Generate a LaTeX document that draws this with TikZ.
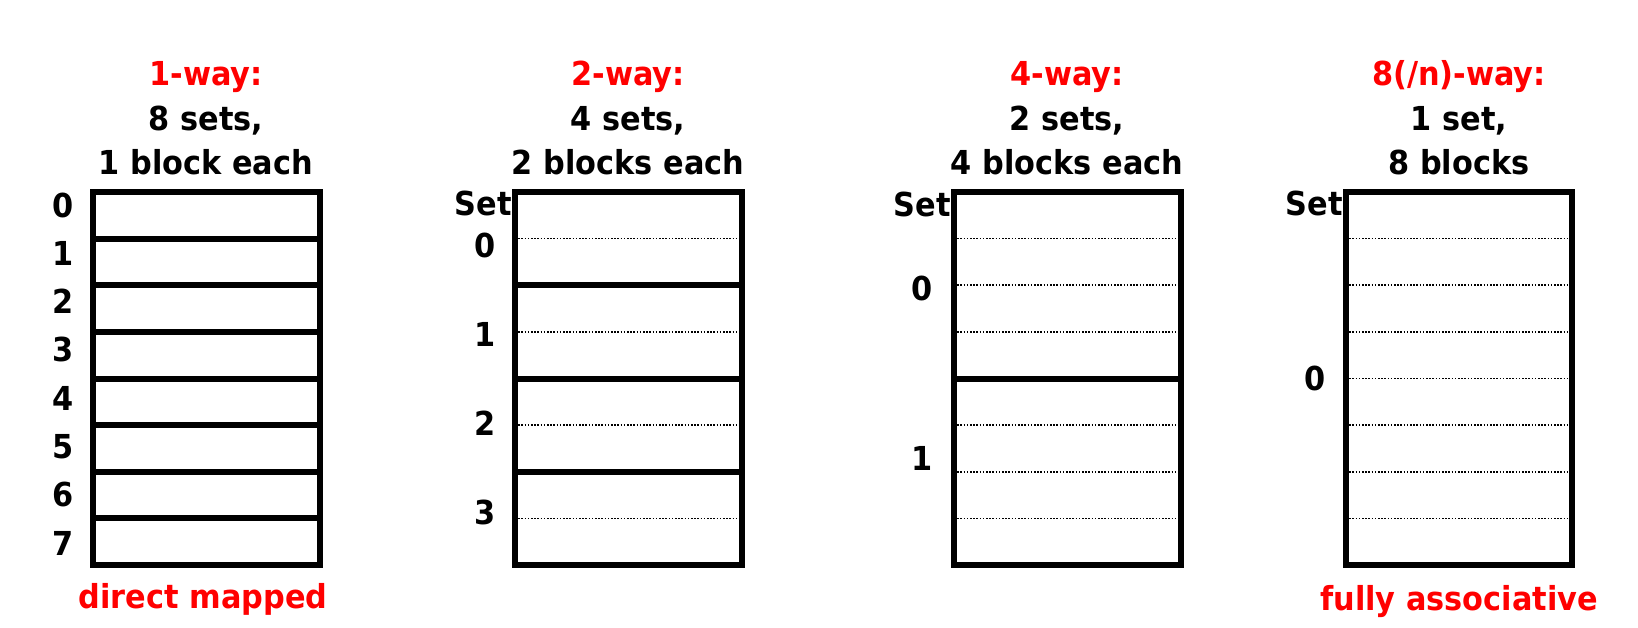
\documentclass[tikz,border=0pt]{standalone}
\usepackage{fontspec}
\setmainfont[FakeStretch=0.92]{DejaVu Sans}
\usetikzlibrary{positioning}

\tikzset{
  labelfont/.style={font=\fontsize{33}{40}\selectfont\bfseries, inner sep=0pt},
  waytitle/.style={labelfont, text=red, anchor=base},
  waytext/.style={labelfont, anchor=base},
  setnum/.style={labelfont},
  blockrule/.style={line width=6pt, line join=miter},
  wayrule/.style={line width=1.7pt, dash pattern=on 1.6pt off 1.6pt},
}

\begin{document}
\begin{tikzpicture}[x=1pt, y=-1pt]
  \useasboundingbox (0,0) rectangle (1638,627);
  \def\rowh{46.625}

  % headers
  \node[waytitle] (t1) at (206,85) {1-way:};
  \node[waytext] (s1) at (206,130) {8 sets,};
  \node[waytext] (b1) at (206,174) {1 block each};
  \node[waytitle] (t2) at (628,85) {2-way:};
  \node[waytext] (s2) at (628,130) {4 sets,};
  \node[waytext] (b2) at (628,174) {2 blocks each};
  \node[waytitle] (t3) at (1067,85) {4-way:};
  \node[waytext] (s3) at (1067,130) {2 sets,};
  \node[waytext] (b3) at (1067,174) {4 blocks each};
  \node[waytitle] (t4) at (1459,85) {8(/n)-way:};
  \node[waytext] (s4) at (1459,130) {1 set,};
  \node[waytext] (b4) at (1459,174) {8 blocks};

  % dotted ways
  \foreach \k in {1,3,5,7}
    \draw[wayrule] (515,192+\k*\rowh) -- (742,192+\k*\rowh);
  \foreach \k in {1,2,3,5,6,7}
    \draw[wayrule] (954,192+\k*\rowh) -- (1181,192+\k*\rowh);
  \foreach \k in {1,...,7}
    \draw[wayrule] (1346,192+\k*\rowh) -- (1572,192+\k*\rowh);

  % set boundaries
  \foreach \k in {1,...,7}
    \draw[blockrule] (93,192+\k*\rowh) -- (320,192+\k*\rowh);
  \foreach \k in {2,4,6}
    \draw[blockrule] (515,192+\k*\rowh) -- (742,192+\k*\rowh);
  \draw[blockrule] (954,192+4*\rowh) -- (1181,192+4*\rowh);

  % frames
  \draw[blockrule] (93,192) rectangle (320,565);
  \draw[blockrule] (515,192) rectangle (742,565);
  \draw[blockrule] (954,192) rectangle (1181,565);
  \draw[blockrule] (1346,192) rectangle (1572,565);

  % set numbers
  \foreach \k in {0,...,7}
    \node[setnum] (d\k) at (63,205+\k*48.3) {\k};
  \node[setnum, anchor=east] (set2) at (512,203) {Set};
  \foreach \k in {0,...,3}
    \node[setnum] (e\k) at (485,245+\k*89) {\k};
  \node[setnum, anchor=east] (set3) at (951,204) {Set};
  \node[setnum] (f0) at (922,288) {0};
  \node[setnum] (f1) at (922,458) {1};
  \node[setnum, anchor=east] (set4) at (1343,203) {Set};
  \node[setnum] (g0) at (1315,378) {0};

  % footers
  \node[waytitle] (dm) at (203,608) {direct mapped};
  \node[waytitle] (fa) at (1459,610) {fully associative};
\end{tikzpicture}
\end{document}
